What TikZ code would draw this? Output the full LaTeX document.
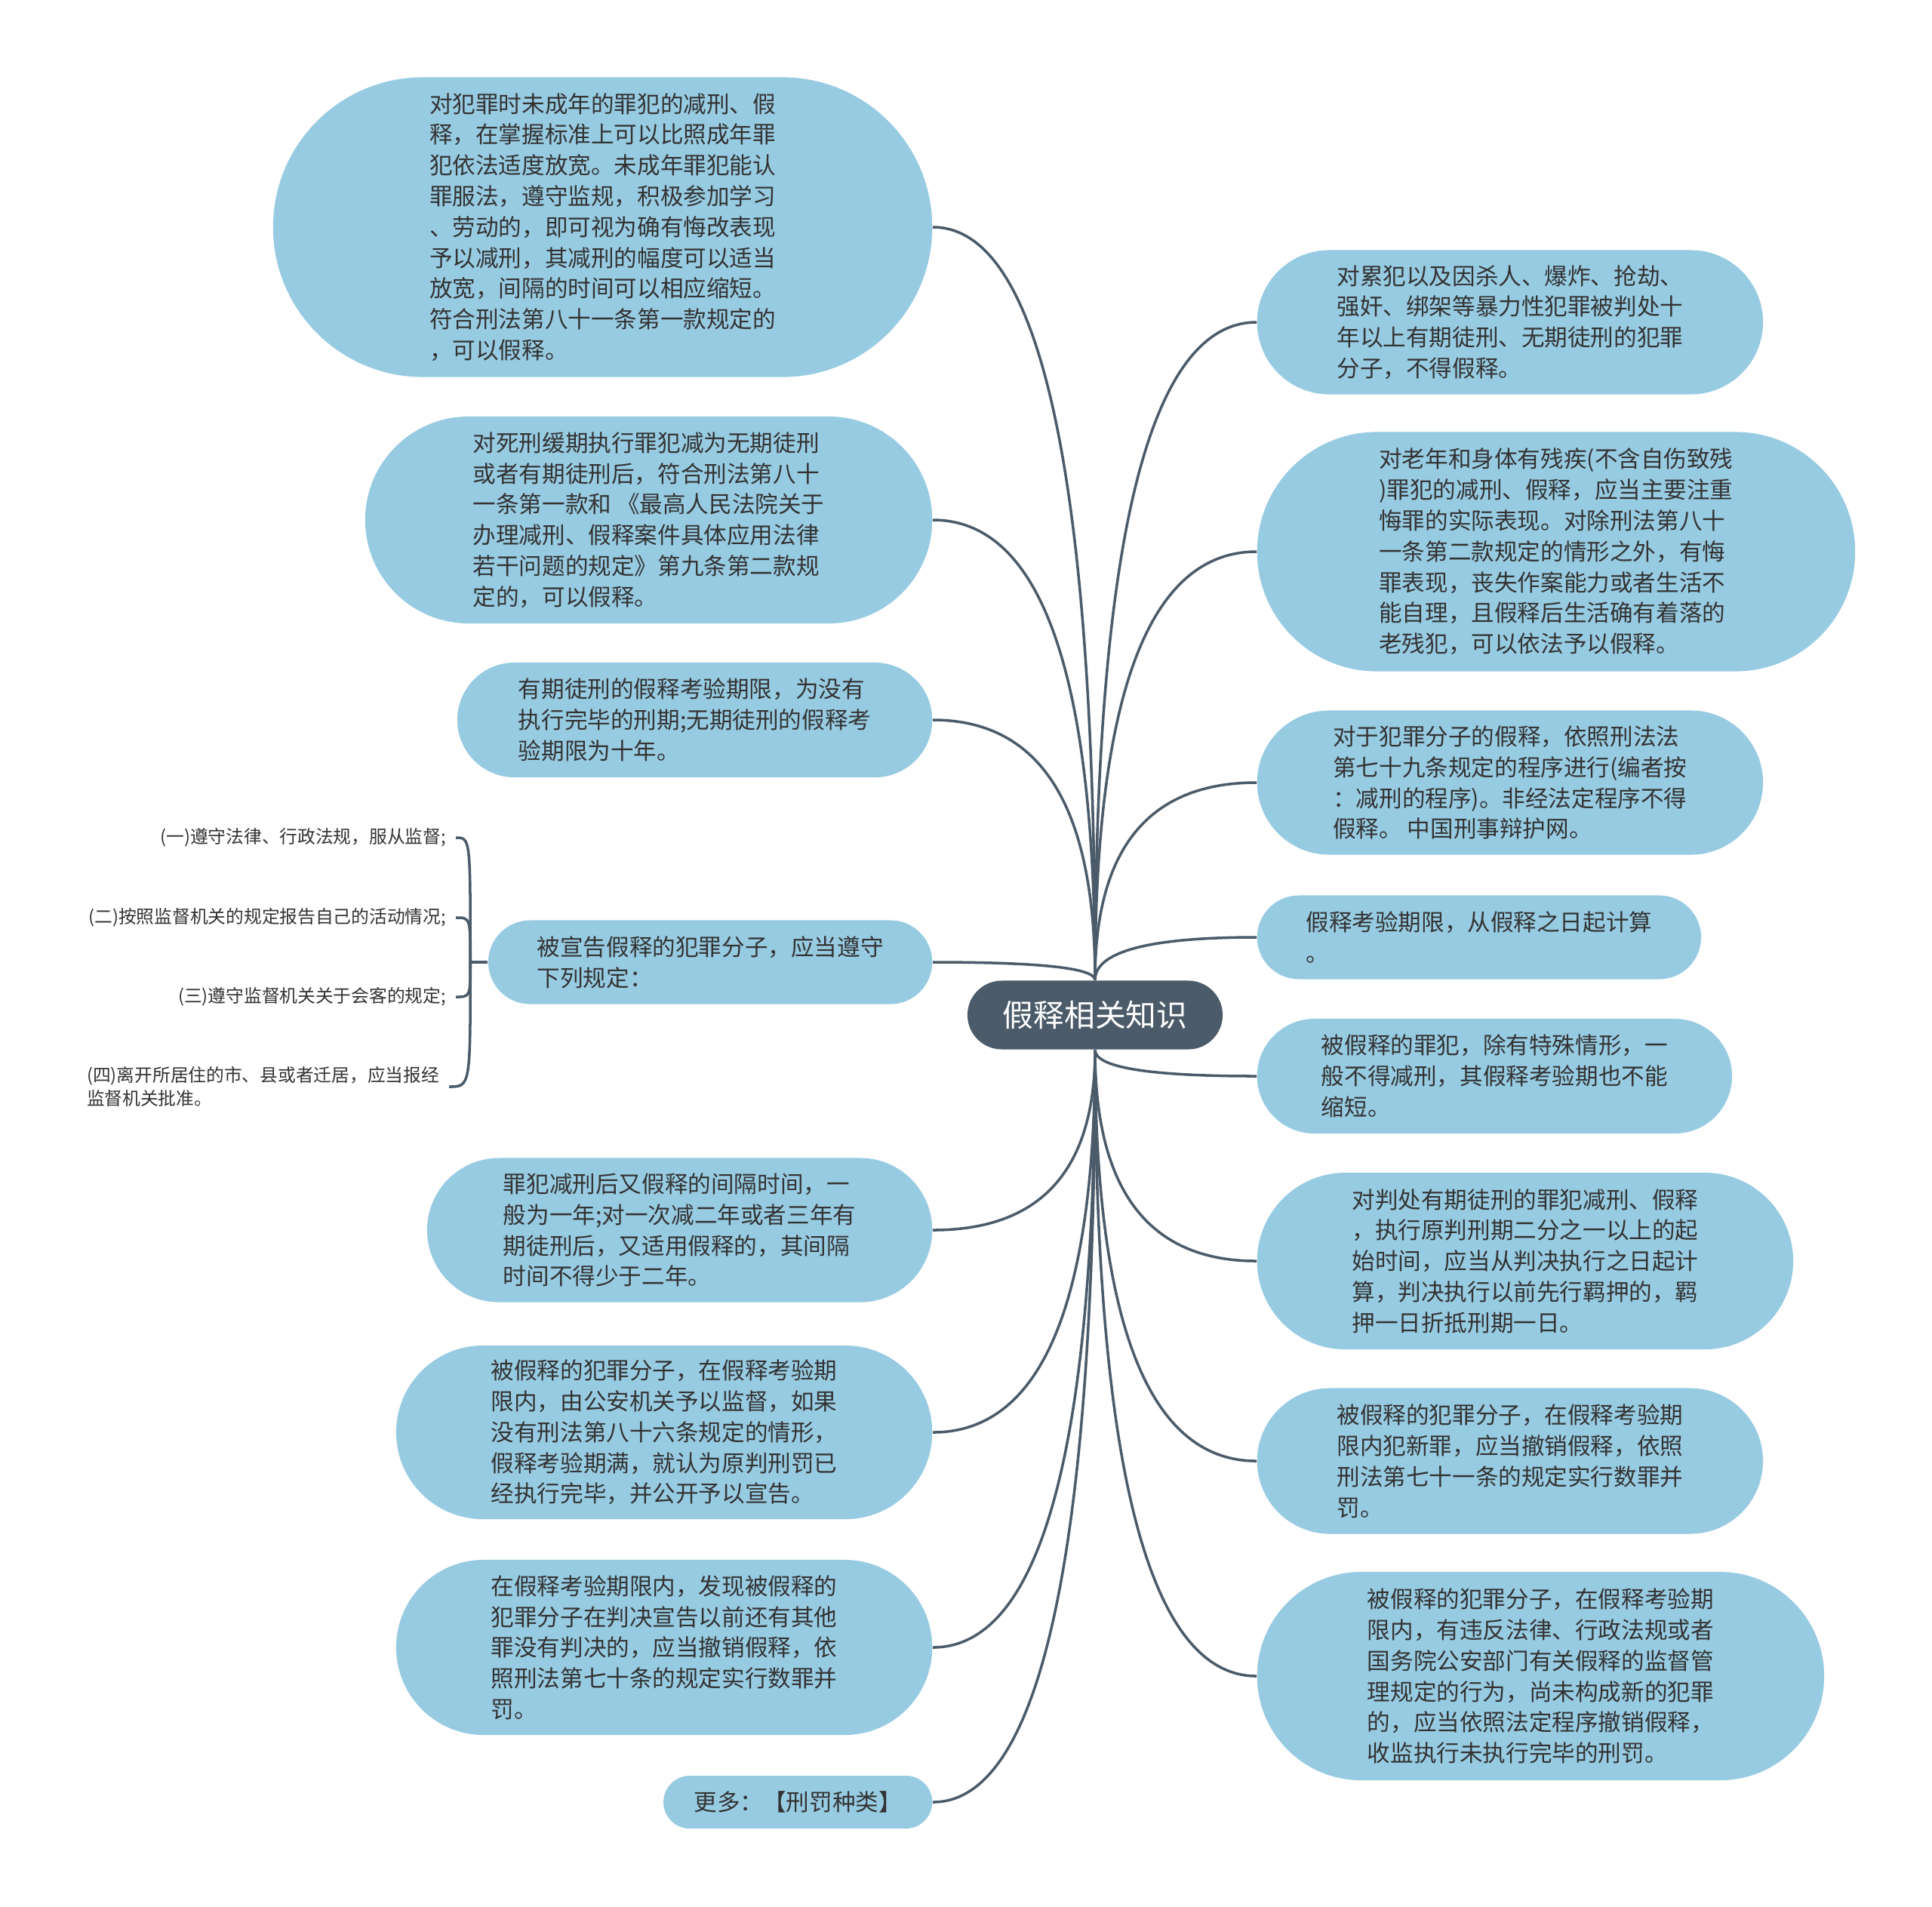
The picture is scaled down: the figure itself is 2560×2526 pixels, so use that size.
\documentclass[tikz,border=0pt]{standalone}
\usepackage{fontspec}
\setmainfont{Noto Sans CJK SC}
\usetikzlibrary{shapes.misc,calc}
\definecolor{leafblue}{HTML}{97CBE2}
\definecolor{hubgray}{HTML}{4B5B69}
\definecolor{txtgray}{HTML}{333333}

\begin{document}
\begin{tikzpicture}[x=0.01cm, y=-0.01cm,
  leafnode/.style={rounded rectangle, fill=leafblue, text=txtgray, inner sep=0pt, align=left, font=\fontsize{8.7pt}{11.6pt}\selectfont},
  hubnode/.style={rounded rectangle, fill=hubgray, text=white, inner sep=0pt, font=\fontsize{11.6pt}{13pt}\selectfont},
  smallnote/.style={text=txtgray, inner xsep=3.5pt, inner ysep=1pt, font=\fontsize{6.75pt}{8.8pt}\selectfont},
  link/.style={draw=hubgray, line width=1pt, to path={.. controls ($(\tikztostart)!0.667!(\tikztostart|-\tikztotarget)$) and ($(\tikztotarget)!0.667!(\tikztostart|-\tikztotarget)$) .. (\tikztotarget)}},
  twig/.style={draw=hubgray, line width=1pt, to path={.. controls (\tikztostart|-\tikztotarget) .. (\tikztotarget)}}]
\path[fill=white, use as bounding box] (0,0) rectangle (2560,2526);

% centre
\node[hubnode, minimum width=3.38cm, minimum height=0.91cm] (hub) at (1451,1345) {假释相关知识};

% left branches
\node[leafnode, anchor=east, minimum width=8.73cm, minimum height=3.97cm] (teen) at (1236,301) {对犯罪时未成年的罪犯的减刑、假\\释，在掌握标准上可以比照成年罪\\犯依法适度放宽。未成年罪犯能认\\罪服法，遵守监规，积极参加学习\\、劳动的，即可视为确有悔改表现\\予以减刑，其减刑的幅度可以适当\\放宽，间隔的时间可以相应缩短。\\符合刑法第八十一条第一款规定的\\，可以假释。};
\node[leafnode, anchor=east, minimum width=7.51cm, minimum height=2.74cm] (death) at (1236,689) {对死刑缓期执行罪犯减为无期徒刑\\或者有期徒刑后，符合刑法第八十\\一条第一款和 《最高人民法院关于\\办理减刑、假释案件具体应用法律\\若干问题的规定》第九条第二款规\\定的，可以假释。};
\node[leafnode, anchor=east, minimum width=6.29cm, minimum height=1.52cm] (term) at (1236,954) {有期徒刑的假释考验期限，为没有\\执行完毕的刑期;无期徒刑的假释考\\验期限为十年。};
\node[leafnode, anchor=east, minimum width=5.88cm, minimum height=1.11cm] (rules) at (1236,1275) {被宣告假释的犯罪分子，应当遵守\\下列规定：};
\node[leafnode, anchor=east, minimum width=6.69cm, minimum height=1.91cm] (gap) at (1236,1630) {罪犯减刑后又假释的间隔时间，一\\般为一年;对一次减二年或者三年有\\期徒刑后，又适用假释的，其间隔\\时间不得少于二年。};
\node[leafnode, anchor=east, minimum width=7.10cm, minimum height=2.30cm] (watch) at (1236,1898) {被假释的犯罪分子，在假释考验期\\限内，由公安机关予以监督，如果\\没有刑法第八十六条规定的情形，\\假释考验期满，就认为原判刑罚已\\经执行完毕，并公开予以宣告。};
\node[leafnode, anchor=east, minimum width=7.10cm, minimum height=2.32cm] (other) at (1236,2183) {在假释考验期限内，发现被假释的\\犯罪分子在判决宣告以前还有其他\\罪没有判决的，应当撤销假释，依\\照刑法第七十条的规定实行数罪并\\罚。};
\node[leafnode, anchor=east, minimum width=3.56cm, minimum height=0.70cm] (more) at (1236,2388) {更多：【刑罚种类】};

% right branches
\node[leafnode, anchor=west, minimum width=6.70cm, minimum height=1.91cm] (recid) at (1665,427) {对累犯以及因杀人、爆炸、抢劫、\\强奸、绑架等暴力性犯罪被判处十\\年以上有期徒刑、无期徒刑的犯罪\\分子，不得假释。};
\node[leafnode, anchor=west, minimum width=7.92cm, minimum height=3.17cm] (elder) at (1665,731) {对老年和身体有残疾(不含自伤致残\\)罪犯的减刑、假释，应当主要注重\\悔罪的实际表现。对除刑法第八十\\一条第二款规定的情形之外，有悔\\罪表现，丧失作案能力或者生活不\\能自理，且假释后生活确有着落的\\老残犯，可以依法予以假释。};
\node[leafnode, anchor=west, minimum width=6.70cm, minimum height=1.91cm] (proc) at (1665,1037) {对于犯罪分子的假释，依照刑法法\\第七十九条规定的程序进行(编者按\\：减刑的程序)。非经法定程序不得\\假释。 中国刑事辩护网。};
\node[leafnode, anchor=west, minimum width=5.88cm, minimum height=1.11cm] (start) at (1665,1242) {假释考验期限，从假释之日起计算\\。};
\node[leafnode, anchor=west, minimum width=6.29cm, minimum height=1.52cm] (nocut) at (1665,1426) {被假释的罪犯，除有特殊情形，一\\般不得减刑，其假释考验期也不能\\缩短。};
\node[leafnode, anchor=west, minimum width=7.10cm, minimum height=2.34cm] (half) at (1665,1671) {对判处有期徒刑的罪犯减刑、假释\\，执行原判刑期二分之一以上的起\\始时间，应当从判决执行之日起计\\算，判决执行以前先行羁押的，羁\\押一日折抵刑期一日。};
\node[leafnode, anchor=west, minimum width=6.70cm, minimum height=1.93cm] (newcrime) at (1665,1936) {被假释的犯罪分子，在假释考验期\\限内犯新罪，应当撤销假释，依照\\刑法第七十一条的规定实行数罪并\\罚。};
\node[leafnode, anchor=west, minimum width=7.51cm, minimum height=2.76cm] (breach) at (1665,2221) {被假释的犯罪分子，在假释考验期\\限内，有违反法律、行政法规或者\\国务院公安部门有关假释的监督管\\理规定的行为，尚未构成新的犯罪\\的，应当依照法定程序撤销假释，\\收监执行未执行完毕的刑罚。};

% rules to follow
\node[smallnote, anchor=east, align=right] (obey) at (604,1110) {(一)遵守法律、行政法规，服从监督;};
\node[smallnote, anchor=east, align=right] (report) at (604,1216) {(二)按照监督机关的规定报告自己的活动情况;};
\node[smallnote, anchor=east, align=right] (guest) at (604,1321) {(三)遵守监督机关关于会客的规定;};
\node[smallnote, anchor=west, align=left] (move) at (102,1440) {(四)离开所居住的市、县或者迁居，应当报经\\监督机关批准。};
\coordinate (fork) at ([xshift=-0.23cm]rules.west);

% connectors
\draw[link] (hub.north) to (teen.east);
\draw[link] (hub.north) to (death.east);
\draw[link] (hub.north) to (term.east);
\draw[link] (hub.north) to (rules.east);
\draw[link] (hub.south) to (gap.east);
\draw[link] (hub.south) to (watch.east);
\draw[link] (hub.south) to (other.east);
\draw[link] (hub.south) to (more.east);
\draw[link] (hub.north) to (recid.west);
\draw[link] (hub.north) to (elder.west);
\draw[link] (hub.north) to (proc.west);
\draw[link] (hub.north) to (start.west);
\draw[link] (hub.south) to (nocut.west);
\draw[link] (hub.south) to (half.west);
\draw[link] (hub.south) to (newcrime.west);
\draw[link] (hub.south) to (breach.west);
\draw[twig] (rules.west) -- (fork);
\draw[twig] (fork) to (obey.east);
\draw[twig] (fork) to (report.east);
\draw[twig] (fork) to (guest.east);
\draw[twig] (fork) to (move.east);
\end{tikzpicture}
\end{document}
